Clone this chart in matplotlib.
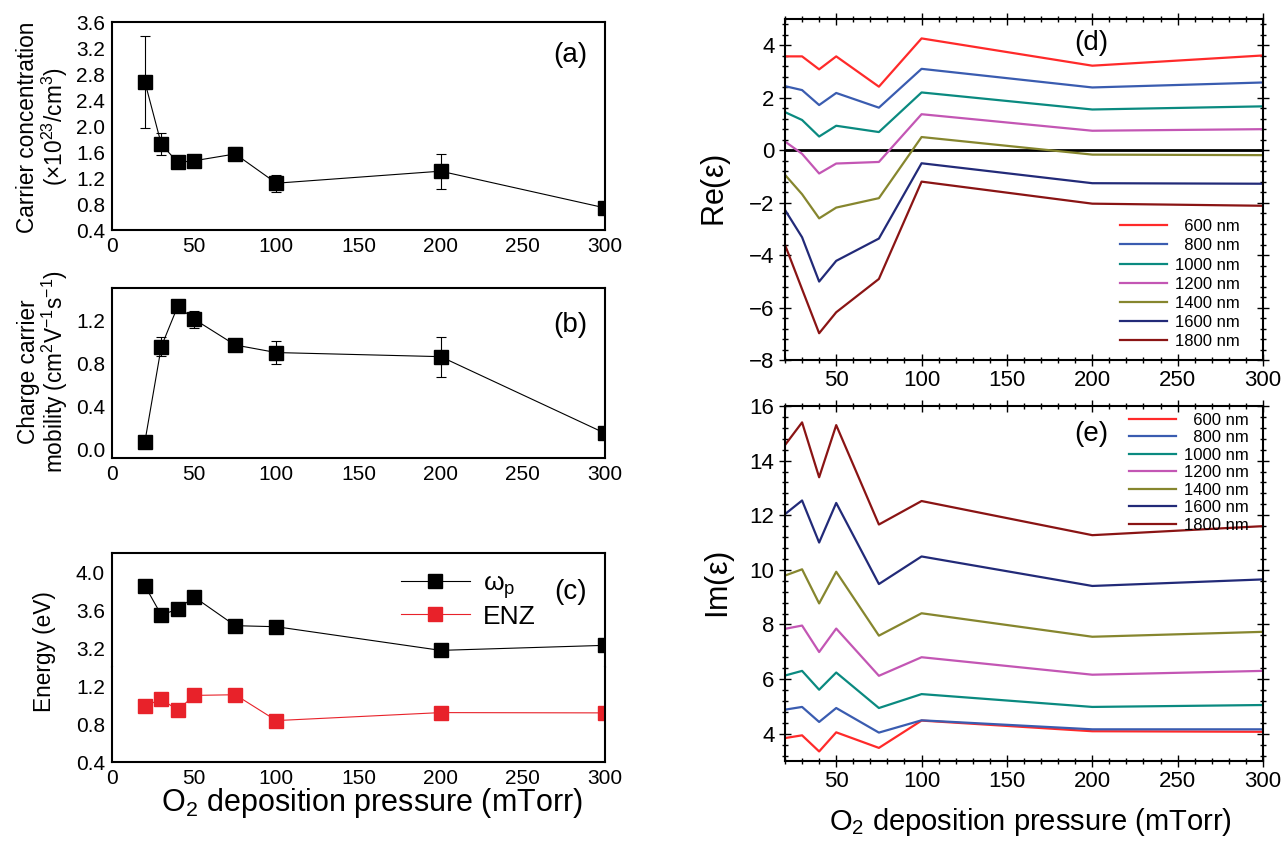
import matplotlib
matplotlib.use("Agg")
import matplotlib.pyplot as plt
from matplotlib.ticker import MultipleLocator, AutoMinorLocator
from matplotlib.lines import Line2D

plt.rcParams['font.family'] = ['Liberation Sans', 'DejaVu Sans']
plt.rcParams['mathtext.fontset'] = 'custom'
plt.rcParams['mathtext.rm'] = 'Liberation Sans'
plt.rcParams['mathtext.it'] = 'Liberation Sans'

# ---------------- data ----------------
pressure = [20, 30, 40, 50, 75, 100, 200, 300]

carrier_conc = [2.68, 1.72, 1.44, 1.465, 1.57, 1.12, 1.305, 0.74]
carrier_err = [0.71, 0.17, 0.03, 0.08, 0.10, 0.13, 0.27, 0.03]

mobility = [0.07, 0.955, 1.33, 1.21, 0.97, 0.90, 0.862, 0.15]
mobility_err = [0.0, 0.09, 0.0, 0.08, 0.06, 0.105, 0.185, 0.0]

omega_p = [3.856, 3.547, 3.61, 3.737, 3.435, 3.424, 3.175, 3.228]
enz = [0.988, 1.062, 0.946, 1.101, 1.108, 0.836, 0.92, 0.917]

wavelength_labels = ["  600 nm", "  800 nm", "1000 nm", "1200 nm", "1400 nm", "1600 nm", "1800 nm"]
wl_colors = ["#ff2a2a", "#3a5cb0", "#0a8a80", "#c356b4", "#86862e", "#222a78", "#8a1414"]

re_600 = [3.575, 3.575, 3.08, 3.575, 2.42, 4.26, 3.22, 3.61]
re_800 = [2.44, 2.29, 1.72, 2.18, 1.62, 3.10, 2.39, 2.58]
re_1000 = [1.45, 1.15, 0.52, 0.93, 0.69, 2.20, 1.55, 1.67]
re_1200 = [0.33, -0.14, -0.89, -0.51, -0.45, 1.37, 0.74, 0.80]
re_1400 = [-0.94, -1.68, -2.60, -2.19, -1.83, 0.50, -0.17, -0.19]
re_1600 = [-2.28, -3.32, -5.01, -4.22, -3.37, -0.50, -1.26, -1.28]
re_1800 = [-3.61, -5.30, -6.98, -6.18, -4.91, -1.20, -2.04, -2.12]
re_eps = [re_600, re_800, re_1000, re_1200, re_1400, re_1600, re_1800]

im_600 = [3.84, 3.94, 3.35, 4.05, 3.48, 4.48, 4.09, 4.07]
im_800 = [4.88, 4.98, 4.43, 4.94, 4.04, 4.49, 4.16, 4.16]
im_1000 = [6.13, 6.30, 5.61, 6.24, 4.94, 5.45, 4.98, 5.05]
im_1200 = [7.84, 7.96, 6.99, 7.85, 6.12, 6.80, 6.16, 6.30]
im_1400 = [9.79, 10.02, 8.77, 9.93, 7.59, 8.41, 7.55, 7.73]
im_1600 = [12.04, 12.54, 11.00, 12.45, 9.48, 10.49, 9.41, 9.65]
im_1800 = [14.57, 15.40, 13.39, 15.30, 11.66, 12.52, 11.27, 11.60]
im_eps = [im_600, im_800, im_1000, im_1200, im_1400, im_1600, im_1800]

# ---------------- figure ----------------
W, H = 1282, 841
fig = plt.figure(figsize=(W / 100, H / 100), dpi=100)


def box(l, t, r, b):
    return [l / W, 1 - b / H, (r - l) / W, (b - t) / H]


TICK_FS = 15
LAB_FS = 16.3


def style_left(ax):
    ax.set_xlim(0, 300)
    ax.xaxis.set_major_locator(MultipleLocator(50))
    ax.tick_params(length=0, labelsize=TICK_FS, pad=5)
    for s in ax.spines.values():
        s.set_linewidth(1.5)


L, R = 112, 605
mk = dict(marker='s', markersize=10, color='black', lw=0.8, mfc='black', mec='black')

# (a)
ax_a = fig.add_axes(box(L, 22, R, 230))
ax_a.errorbar(pressure, carrier_conc, yerr=carrier_err, capsize=3.5, elinewidth=0.8,
              capthick=0.8, ecolor='black', **mk)
ax_a.set_ylim(0.4, 3.6)
ax_a.yaxis.set_major_locator(MultipleLocator(0.4))
ax_a.yaxis.set_major_formatter(lambda v, p: f"{v:.1f}")
style_left(ax_a)
ax_a.text(0.93, 0.84, "(a)", transform=ax_a.transAxes, fontsize=20, ha='center', va='center')
fig.text(28 / W, 1 - 127 / H, "Carrier concentration", rotation=90, fontsize=LAB_FS,
         ha='center', va='center')
fig.text(55 / W, 1 - 127 / H, r"($\times$10$^{23}$/cm$^{3}$)", rotation=90, fontsize=LAB_FS,
         ha='center', va='center')

# (b)
ax_b = fig.add_axes(box(L, 288, R, 458))
ax_b.errorbar(pressure, mobility, yerr=mobility_err, capsize=3.5, elinewidth=0.8,
              capthick=0.8, ecolor='black', **mk)
ax_b.set_ylim(-0.08, 1.5)
ax_b.yaxis.set_major_locator(MultipleLocator(0.4))
ax_b.yaxis.set_major_formatter(lambda v, p: f"{v:.1f}")
style_left(ax_b)
ax_b.text(0.93, 0.78, "(b)", transform=ax_b.transAxes, fontsize=20, ha='center', va='center')
fig.text(28 / W, 1 - 372 / H, "Charge carrier", rotation=90, fontsize=LAB_FS,
         ha='center', va='center')
fig.text(55 / W, 1 - 372 / H, r"mobility (cm$^{2}$V$^{-1}$s$^{-1}$)", rotation=90,
         fontsize=LAB_FS, ha='center', va='center')

# (c) broken axis
top_c, brk_c, bot_c = 553, 667, 762
ax_c1 = fig.add_axes(box(L, top_c, R, brk_c))
ax_c2 = fig.add_axes(box(L, brk_c, R, bot_c), sharex=ax_c1)
for ax in (ax_c1, ax_c2):
    ax.plot(pressure, omega_p, **mk)
    ax.plot(pressure, enz, marker='s', markersize=10, color='#e8222a', lw=0.8,
            mfc='#e8222a', mec='#e8222a')
    style_left(ax)
    ax.yaxis.set_major_formatter(lambda v, p: f"{v:.1f}")
ax_c1.set_ylim(3.0, 4.2)
ax_c1.set_yticks([3.2, 3.6, 4.0])
ax_c2.set_ylim(0.4, 1.4)
ax_c2.set_yticks([0.4, 0.8, 1.2])
ax_c1.spines['bottom'].set_visible(False)
ax_c2.spines['top'].set_visible(False)
ax_c1.tick_params(labelbottom=False)
ax_c1.text(0.93, 0.66, "(c)", transform=ax_c1.transAxes, fontsize=20, ha='center', va='center')
h1 = Line2D([], [], marker='s', markersize=10, color='black', lw=0.8)
h2 = Line2D([], [], marker='s', markersize=10, color='#e8222a', lw=0.8)
ax_c1.legend([h1, h2], [r"$\omega_{\mathrm{p}}$", "ENZ"], loc='upper left',
             bbox_to_anchor=(0.565, 0.93), frameon=False, fontsize=19, handlelength=2.6,
             handletextpad=0.5, labelspacing=0.15, borderaxespad=0)
fig.text(45 / W, 1 - 652 / H, "Energy (eV)", rotation=90, fontsize=LAB_FS,
         ha='center', va='center')
fig.text(372 / W, 1 - 803 / H, r"O$_{2}$ deposition pressure (mTorr)",
         fontsize=22, ha='center', va='center')

# right panels
RL, RR = 785, 1263


def style_right(ax):
    ax.set_xlim(20, 300)
    ax.xaxis.set_major_locator(MultipleLocator(50))
    ax.xaxis.set_minor_locator(MultipleLocator(10))
    ax.yaxis.set_major_locator(MultipleLocator(2))
    ax.yaxis.set_minor_locator(AutoMinorLocator(5))
    ax.tick_params(which='both', direction='inout', top=True, right=True,
                   labelsize=16, width=1.0)
    ax.tick_params(which='major', length=8)
    ax.tick_params(which='minor', length=4)
    for s in ax.spines.values():
        s.set_linewidth(1.5)


leg_kw = dict(frameon=False, fontsize=12, handlelength=2.8, handletextpad=0.5)

ax_d = fig.add_axes(box(RL, 19, RR, 360))
ax_d.axhline(0, color='black', lw=2)
for vals, c, lab in zip(re_eps, wl_colors, wavelength_labels):
    ax_d.plot(pressure, vals, color=c, lw=1.6, label=lab)
ax_d.set_ylim(-8, 5)
style_right(ax_d)
ax_d.text(0.64, 0.93, "(d)", transform=ax_d.transAxes, fontsize=20, ha='center', va='center')
ax_d.legend(loc='lower right', borderaxespad=0.25, bbox_to_anchor=(0.975, 0.0),
            labelspacing=0.25, **leg_kw)
fig.text(716 / W, 1 - 190 / H, r"Re($\varepsilon$)", rotation=90, fontsize=22,
         ha='center', va='center')

ax_e = fig.add_axes(box(RL, 406, RR, 761))
for vals, c, lab in zip(im_eps, wl_colors, wavelength_labels):
    ax_e.plot(pressure, vals, color=c, lw=1.6, label=lab)
ax_e.set_ylim(3, 16)
style_right(ax_e)
ax_e.text(0.64, 0.92, "(e)", transform=ax_e.transAxes, fontsize=20, ha='center', va='center')
ax_e.legend(loc='upper right', borderaxespad=0.0, bbox_to_anchor=(0.985, 1.0),
            labelspacing=0.15, **leg_kw)
fig.text(720 / W, 1 - 585 / H, r"Im($\varepsilon$)", rotation=90, fontsize=22,
         ha='center', va='center')
fig.text(1030 / W, 1 - 822 / H, r"O$_{2}$ deposition pressure (mTorr)",
         fontsize=21, ha='center', va='center')

fig.savefig("out.png", dpi=100, facecolor='white')
